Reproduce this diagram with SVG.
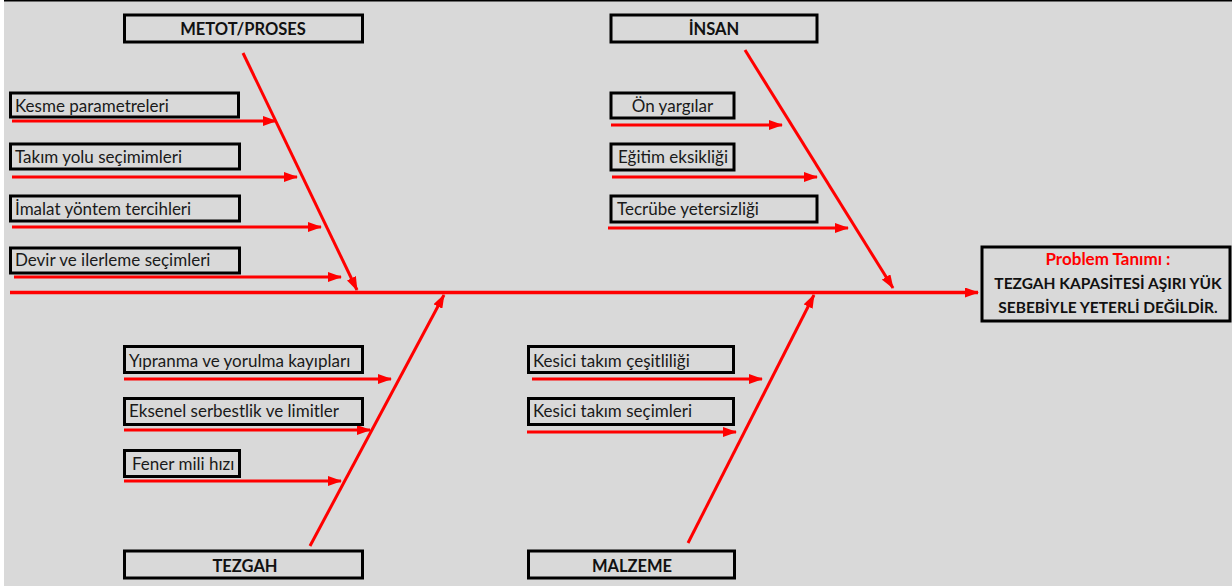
<svg xmlns="http://www.w3.org/2000/svg" width="1232" height="586" viewBox="0 0 1232 586">
<defs>
<marker id="ah" markerUnits="userSpaceOnUse" markerWidth="14" markerHeight="10" refX="13" refY="5" orient="auto">
<path d="M0,0 L14,5 L0,10 z" fill="#ff0000"/>
</marker>
<style>
.box{fill:none;stroke:#000;stroke-width:3}
.t{font-family:Lato,"Liberation Sans",sans-serif;font-size:17px;fill:#1a1a1a}
.h{font-family:Lato,"Liberation Sans",sans-serif;font-size:16.5px;font-weight:bold;fill:#111;text-anchor:middle}
.p{font-family:Lato,"Liberation Sans",sans-serif;font-size:15.5px;font-weight:bold;fill:#111;text-anchor:middle}
.r{stroke:#ff0000;stroke-width:3;fill:none;marker-end:url(#ah)}
</style>
</defs>
<rect x="0" y="0" width="1232" height="586" fill="#ffffff"/>
<rect x="4" y="0" width="1228" height="586" fill="#d9d9d9"/>
<line x1="4" y1="0.75" x2="1232" y2="0.75" stroke="#000" stroke-width="1.5"/>

<g id="connectors">
<line class="r" x1="10" y1="292.5" x2="978" y2="292.5" style="stroke-width:3.5"/>
<line class="r" x1="243" y1="53" x2="357" y2="290"/>
<line class="r" x1="745" y1="50" x2="893" y2="288"/>
<line class="r" x1="310" y1="546" x2="444" y2="295"/>
<line class="r" x1="688" y1="543" x2="814" y2="295"/>
<line class="r" x1="12" y1="121" x2="276" y2="121"/>
<line class="r" x1="12" y1="177" x2="297" y2="177"/>
<line class="r" x1="12" y1="227" x2="321" y2="227"/>
<line class="r" x1="14" y1="277" x2="341" y2="277"/>
<line class="r" x1="611" y1="125" x2="782" y2="125"/>
<line class="r" x1="612" y1="177" x2="817" y2="177"/>
<line class="r" x1="608" y1="228" x2="848" y2="228"/>
<line class="r" x1="124" y1="379" x2="391" y2="379"/>
<line class="r" x1="124" y1="430" x2="370" y2="430"/>
<line class="r" x1="124" y1="481" x2="341" y2="481"/>
<line class="r" x1="532" y1="379" x2="762" y2="379"/>
<line class="r" x1="527" y1="432" x2="736" y2="432"/>
</g>

<g id="metot"><rect class="box" x="124.5" y="15" width="238" height="27"/><text class="h" x="243" y="34.5">METOT/PROSES</text></g>
<g id="insan"><rect class="box" x="611" y="15" width="206" height="27"/><text class="h" x="714" y="34.5">İNSAN</text></g>
<g id="tezgah"><rect class="box" x="124.5" y="551" width="238" height="27"/><text class="h" x="245" y="572">TEZGAH</text></g>
<g id="malzeme"><rect class="box" x="528.5" y="551" width="206" height="27"/><text class="h" x="632" y="572">MALZEME</text></g>

<g id="problem"><rect class="box" x="982" y="247" width="248" height="74"/>
<text class="p" x="1108" y="265" style="fill:#ff0000;font-size:17px">Problem Tanımı :</text>
<text class="p" x="1108" y="289">TEZGAH KAPASİTESİ AŞIRI YÜK</text>
<text class="p" x="1108" y="313">SEBEBİYLE YETERLİ DEĞİLDİR.</text>
</g>

<g id="kesme"><rect class="box" x="10.5" y="93" width="228" height="24"/><text class="t" x="15" y="112">Kesme parametreleri</text></g>
<g id="takim"><rect class="box" x="10.5" y="144" width="229" height="25"/><text class="t" x="15" y="163">Takım yolu seçimimleri</text></g>
<g id="imalat"><rect class="box" x="10.5" y="196" width="229" height="25"/><text class="t" x="15" y="215">İmalat yöntem tercihleri</text></g>
<g id="devir"><rect class="box" x="10.5" y="248" width="229" height="25"/><text class="t" x="15" y="266">Devir ve ilerleme seçimleri</text></g>

<g id="onyargi"><rect class="box" x="611" y="93" width="123" height="25"/><text class="t" x="672.5" y="112" text-anchor="middle">Ön yargılar</text></g>
<g id="egitim"><rect class="box" x="611" y="144" width="123" height="26"/><text class="t" x="673" y="163" text-anchor="middle">Eğitim eksikliği</text></g>
<g id="tecrube"><rect class="box" x="611" y="196" width="206" height="26"/><text class="t" x="617" y="215">Tecrübe yetersizliği</text></g>

<g id="yipranma"><rect class="box" x="124.5" y="346.5" width="238" height="26"/><text class="t" x="129" y="367">Yıpranma ve yorulma kayıpları</text></g>
<g id="eksenel"><rect class="box" x="124.5" y="398.5" width="238" height="26"/><text class="t" x="129" y="417">Eksenel serbestlik ve limitler</text></g>
<g id="fener"><rect class="box" x="124.5" y="450.5" width="115" height="26"/><text class="t" x="132" y="470">Fener mili hızı</text></g>

<g id="cesit"><rect class="box" x="528.5" y="346.5" width="205" height="26"/><text class="t" x="533" y="367">Kesici takım çeşitliliği</text></g>
<g id="secim"><rect class="box" x="528.5" y="398.5" width="205" height="26"/><text class="t" x="533" y="417">Kesici takım seçimleri</text></g>
</svg>
